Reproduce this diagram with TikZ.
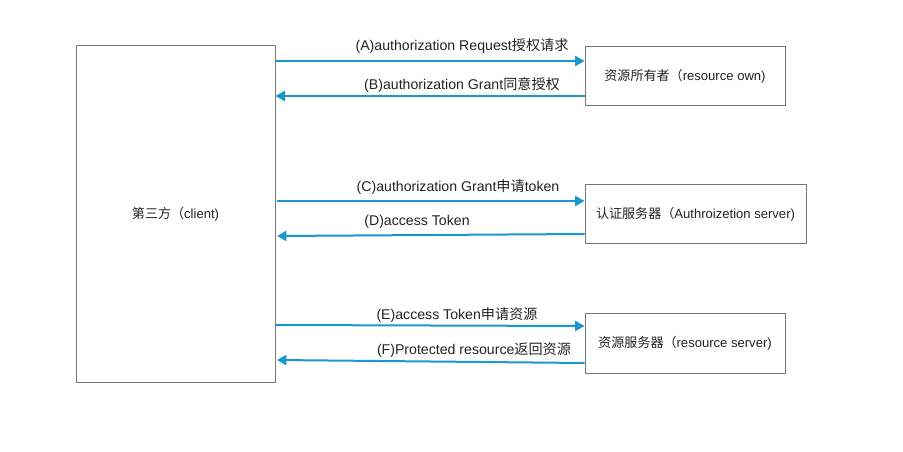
\documentclass[tikz,border=0pt]{standalone}
\usepackage{fontspec}
\setmainfont{Liberation Sans}
\newfontfamily\cjk{Noto Sans CJK SC}
\usetikzlibrary{arrows.meta}
\definecolor{arrowblue}{HTML}{1A97CC}
\definecolor{boxgray}{HTML}{777777}
\definecolor{txt}{HTML}{222222}
\tikzset{
  box/.style={draw=boxgray, line width=0.75pt, fill=white, inner sep=0pt, text=txt, font=\fontsize{9.8pt}{11pt}\selectfont},
  flow/.style={draw=arrowblue, line width=1.5pt, -{Triangle[length=7pt,width=7.5pt]}},
  lbl/.style={text=txt, font=\fontsize{10.6pt}{12pt}\selectfont, inner sep=0pt},
}
\begin{document}
\begin{tikzpicture}[x=0.75pt,y=-0.75pt]
\useasboundingbox (0,0) rectangle (903,452);
% boxes
\node[box, minimum width=199*0.75pt, minimum height=336*0.75pt] (client) at (175.5,214) {{\cjk 第三方（}client)};
\node[box, minimum width=200*0.75pt, minimum height=59*0.75pt] (owner) at (685,76.5) {{\cjk 资源所有者（}resource own)};
\node[box, minimum width=221*0.75pt, minimum height=59*0.75pt] (auth) at (695.5,214.5) {{\cjk 认证服务器（}Authroizetion server)};
\node[box, minimum width=200*0.75pt, minimum height=59*0.75pt] (res) at (685,343.5) {{\cjk 资源服务器（}resource server)};
% connector endpoints
\coordinate (a1) at (client.east |- 0,61);
\coordinate (a2) at (owner.west |- 0,61);
\coordinate (b1) at (owner.west |- 0,96);
\coordinate (b2) at (client.east |- 0,96);
\coordinate (c1) at (277,201);
\coordinate (c2) at (owner.west |- 0,201);
\coordinate (d1) at (owner.west |- 0,234);
\coordinate (d2) at (277,236);
\coordinate (e1) at (client.east |- 0,325);
\coordinate (e2) at (owner.west |- 0,326);
\coordinate (f1) at (owner.west |- 0,363);
\coordinate (f2) at (277,360);
\draw[flow] (a1) -- (a2);
\draw[flow] (b1) -- (b2);
\draw[flow] (c1) -- (c2);
\draw[flow] (d1) -- (d2);
\draw[flow] (e1) -- (e2);
\draw[flow] (f1) -- (f2);
% labels
\node[lbl] (la) at (462,46) {(A)authorization Request{\cjk 授权请求}};
\node[lbl] (lb) at (462,85) {(B)authorization Grant{\cjk 同意授权}};
\node[lbl] (lc) at (458,187) {(C)authorization Grant{\cjk 申请}token};
\node[lbl] (ld) at (417,222) {(D)access Token};
\node[lbl] (le) at (457,315) {(E)access Token{\cjk 申请资源}};
\node[lbl] (lf) at (474,350) {(F)Protected resource{\cjk 返回资源}};
\end{tikzpicture}
\end{document}
